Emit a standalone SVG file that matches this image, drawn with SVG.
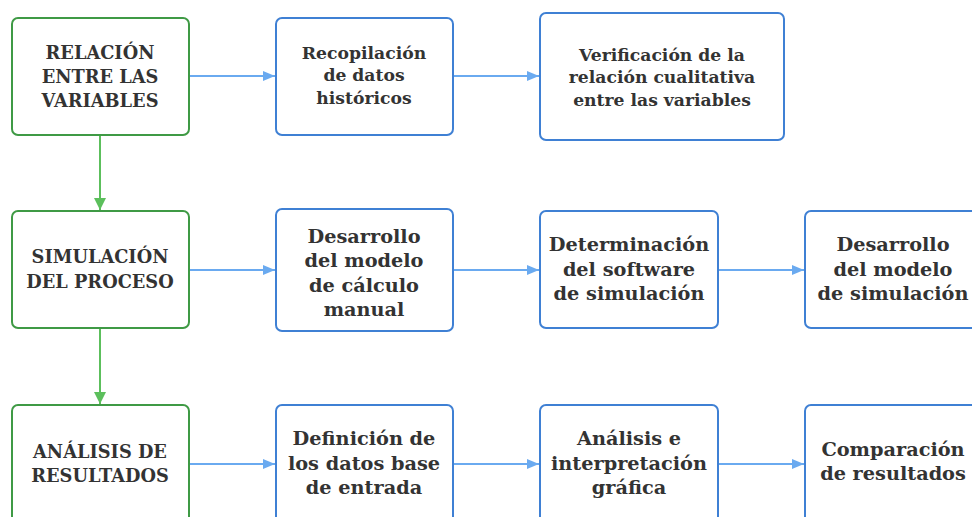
<svg xmlns="http://www.w3.org/2000/svg" width="972" height="517" viewBox="0 0 972 517">
<defs>
<style>
.g{fill:#fff;stroke:#3f9a45;stroke-width:2}
.b{fill:#fff;stroke:#3f80d4;stroke-width:2}
.t{font-family:"DejaVu Serif","Liberation Serif",serif;font-weight:bold;fill:#333;text-anchor:middle}
.cap{font-size:17.8px}
.s{font-size:17.2px}
.m{font-size:19.3px}
.cb{stroke:#6aaaf0;stroke-width:2;fill:none}
.cg{stroke:#5cbf5c;stroke-width:2;fill:none}
</style>
<marker id="ab" viewBox="0 0 12 10" refX="12" refY="5" markerWidth="12" markerHeight="10" markerUnits="userSpaceOnUse" orient="auto">
<path d="M0,0 L12,5 L0,10 Z" fill="#6aaaf0"/>
</marker>
<marker id="ag" viewBox="0 0 12 12" refX="12" refY="6" markerWidth="12" markerHeight="12" markerUnits="userSpaceOnUse" orient="auto">
<path d="M0,0 L12,6 L0,12 Z" fill="#5cbf5c"/>
</marker>
</defs>
<rect width="972" height="517" fill="#fff"/>
<g id="connectors">
<line class="cb" x1="189" y1="76" x2="275" y2="76" marker-end="url(#ab)"/>
<line class="cb" x1="453" y1="76" x2="539" y2="76" marker-end="url(#ab)"/>
<line class="cb" x1="189" y1="270" x2="275" y2="270" marker-end="url(#ab)"/>
<line class="cb" x1="453" y1="270" x2="539" y2="270" marker-end="url(#ab)"/>
<line class="cb" x1="718" y1="270" x2="804" y2="270" marker-end="url(#ab)"/>
<line class="cb" x1="189" y1="464" x2="275" y2="464" marker-end="url(#ab)"/>
<line class="cb" x1="453" y1="464" x2="539" y2="464" marker-end="url(#ab)"/>
<line class="cb" x1="718" y1="464" x2="804" y2="464" marker-end="url(#ab)"/>
<line class="cg" x1="100" y1="135" x2="100" y2="210" marker-end="url(#ag)"/>
<line class="cg" x1="100" y1="328" x2="100" y2="404" marker-end="url(#ag)"/>
</g>
<g id="n1">
<rect class="g" x="12" y="18" width="177" height="117" rx="6"/>
<text class="t cap" x="100" y="59">RELACIÓN</text>
<text class="t cap" x="100" y="83">ENTRE LAS</text>
<text class="t cap" x="100" y="107">VARIABLES</text>
</g>
<g id="n2">
<rect class="b" x="276" y="18" width="177" height="117" rx="6"/>
<text class="t s" x="364" y="59">Recopilación</text>
<text class="t s" x="364" y="81">de datos</text>
<text class="t s" x="364" y="104">históricos</text>
</g>
<g id="n3">
<rect class="b" x="540" y="13" width="244" height="127" rx="6"/>
<text class="t s" x="662" y="61">Verificación de la</text>
<text class="t s" x="662" y="83">relación cualitativa</text>
<text class="t s" x="662" y="106">entre las variables</text>
</g>
<g id="n4">
<rect class="g" x="12" y="211" width="177" height="117" rx="6"/>
<text class="t cap" x="100" y="263">SIMULACIÓN</text>
<text class="t cap" x="100" y="288">DEL PROCESO</text>
</g>
<g id="n5">
<rect class="b" x="276" y="209" width="177" height="122" rx="6"/>
<text class="t m" x="364" y="243">Desarrollo</text>
<text class="t m" x="364" y="267">del modelo</text>
<text class="t m" x="364" y="292">de cálculo</text>
<text class="t m" x="364" y="316">manual</text>
</g>
<g id="n6">
<rect class="b" x="540" y="211" width="178" height="117" rx="6"/>
<text class="t m" x="629" y="251">Determinación</text>
<text class="t m" x="629" y="276">del software</text>
<text class="t m" x="629" y="300">de simulación</text>
</g>
<g id="n7">
<rect class="b" x="805" y="211" width="180" height="117" rx="6"/>
<text class="t m" x="893" y="251">Desarrollo</text>
<text class="t m" x="893" y="276">del modelo</text>
<text class="t m" x="893" y="300">de simulación</text>
</g>
<g id="n8">
<rect class="g" x="12" y="405" width="177" height="130" rx="6"/>
<text class="t cap" x="100" y="458">ANÁLISIS DE</text>
<text class="t cap" x="100" y="482">RESULTADOS</text>
</g>
<g id="n9">
<rect class="b" x="276" y="405" width="177" height="130" rx="6"/>
<text class="t m" x="364" y="445">Definición de</text>
<text class="t m" x="364" y="470">los datos base</text>
<text class="t m" x="364" y="494">de entrada</text>
</g>
<g id="n10">
<rect class="b" x="540" y="405" width="178" height="130" rx="6"/>
<text class="t m" x="629" y="445">Análisis e</text>
<text class="t m" x="629" y="470">interpretación</text>
<text class="t m" x="629" y="494">gráfica</text>
</g>
<g id="n11">
<rect class="b" x="805" y="405" width="180" height="130" rx="6"/>
<text class="t m" x="893" y="456">Comparación</text>
<text class="t m" x="893" y="480">de resultados</text>
</g>
</svg>
